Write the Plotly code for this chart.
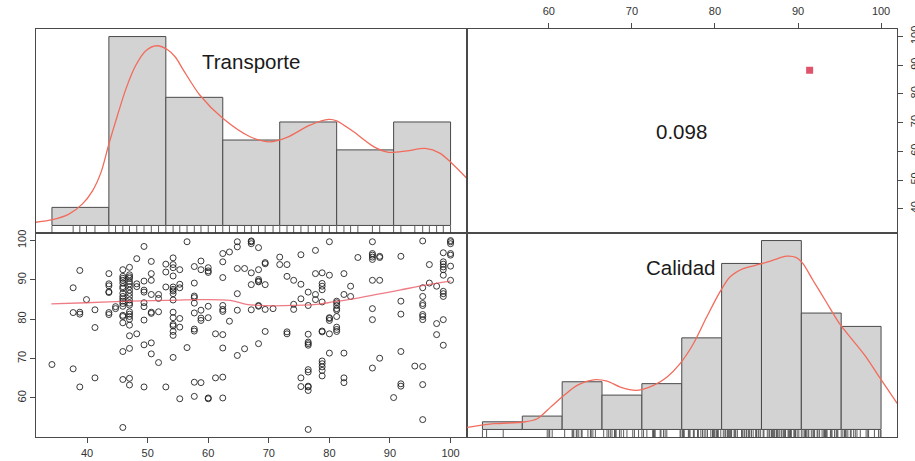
import plotly.graph_objects as go

# ---- paired observations (Transporte, Calidad) ----
transporte = (
    [34.2] + [37.7] * 3 + [38.8] * 4 + [39.9] + [41.3] * 3 + [43.6] * 7 + [44.7] * 2
    + [45.9] * 19 + [47.0] * 22 + [48.2] * 4 + [49.4] * 9 + [50.6] * 8 + [51.8] * 4
    + [53.0] * 4 + [54.2] * 16 + [55.3] * 6 + [56.5] * 2 + [57.7] * 10 + [58.8] * 6
    + [60.0] * 7 + [61.2] * 2 + [62.4] * 10 + [63.5] * 2 + [64.8] * 6 + [66.0] * 2
    + [67.1] * 6 + [68.3] * 8 + [69.4] * 5 + [70.7] + [71.8] * 2 + [73.0] * 4
    + [74.1] * 3 + [75.3] * 5 + [76.5] * 12 + [77.7] * 4 + [78.8] * 12 + [80.0] * 7
    + [81.2] * 9 + [82.4] * 5 + [83.5] * 2 + [84.7] + [87.1] * 9 + [88.3] * 4
    + [90.6] + [91.8] * 6 + [94.1] + [95.4] * 11 + [96.5] * 2 + [97.7] * 3
    + [98.8] * 11 + [100.0] * 7
)
calidad = [
    68.5,
    88.0, 81.7, 67.4,
    92.4, 81.3, 81.8, 62.8,
    85.0,
    82.4, 77.9, 65.1,
    91.6, 89.0, 88.5, 87.0, 86.8, 81.7, 81.2,
    82.7, 83.2,
    92.6, 90.9, 90.4, 89.9, 89.2, 88.3, 87.8, 86.6, 85.8, 85.2, 84.6, 84.0, 83.3,
    81.0, 80.7, 79.1, 71.8, 64.7, 52.5,
    93.2, 91.3, 90.8, 90.4, 89.6, 89.0, 88.3, 87.4, 86.6, 85.8, 84.9, 84.1, 83.6,
    81.9, 81.3, 80.7, 80.0, 78.5, 75.8, 72.6, 65.0, 63.3,
    95.4, 89.0, 88.3, 76.3,
    98.5, 89.7, 87.4, 86.9, 84.2, 83.2, 79.8, 73.5, 62.8,
    94.7, 91.6, 89.9, 86.3, 81.8, 81.5, 74.0, 71.2,
    86.3, 85.3, 81.9, 69.0,
    94.0, 92.0, 88.2, 62.8,
    95.6, 93.9, 93.1, 91.0, 88.2, 87.6, 87.2, 86.5, 84.9, 81.8, 80.4, 78.7, 78.3,
    76.9, 75.9, 70.3,
    92.6, 88.9, 88.0, 80.2, 78.0, 59.8,
    99.7, 72.8,
    93.4, 89.2, 85.9, 85.5, 84.1, 81.6, 77.5, 77.0, 64.0, 60.4,
    94.8, 92.6, 82.3, 80.3, 79.7, 63.9,
    93.1, 92.3, 91.9, 83.3, 80.4, 60.0, 59.8,
    76.3, 65.1,
    96.7, 94.6, 90.6, 83.5, 82.5, 82.0, 76.1, 72.7, 65.3, 60.0,
    97.1, 79.5,
    99.7, 98.4, 92.9, 86.5, 82.3, 70.8,
    92.9, 72.5,
    99.9, 99.7, 99.2, 91.8, 88.8, 82.4,
    98.2, 92.6, 90.1, 89.7, 89.5, 83.5, 83.3, 73.8,
    94.4, 94.1, 88.8, 82.5, 76.9,
    82.7,
    95.8, 93.9,
    93.9, 90.9, 76.8, 76.3,
    89.9, 83.8, 82.5,
    96.4, 88.9, 85.2, 65.1, 62.9,
    86.9, 83.5, 76.2, 74.2, 73.8, 73.4, 67.2, 66.6, 63.0, 62.8, 61.9, 52.0,
    97.5, 91.6, 86.3, 85.0,
    91.8, 89.1, 88.4, 87.5, 84.4, 77.0, 76.8, 69.4, 68.7, 67.9, 67.0, 65.6,
    99.7, 91.2, 80.4, 80.2, 79.7, 76.3, 71.4,
    84.6, 84.2, 83.5, 82.7, 82.3, 80.7, 78.0, 77.4, 76.9,
    91.6, 86.3, 71.4, 65.1, 63.9,
    88.4, 85.8,
    95.7,
    99.7, 96.7, 96.3, 95.8, 95.2, 89.9, 82.7, 79.9, 67.6,
    96.0, 95.7, 89.9, 70.1,
    60.1,
    96.0, 84.6, 81.3, 71.8, 63.6, 63.0,
    68.1,
    99.9, 88.0, 85.8, 84.0, 83.5, 81.2, 80.7, 79.9, 68.0, 63.4, 54.5,
    93.9, 89.2,
    88.4, 78.9, 76.1,
    96.9, 94.6, 94.0, 93.3, 92.6, 91.2, 87.1, 86.5, 85.8, 79.9, 73.4,
    100.0, 99.7, 99.2, 96.7, 96.3, 93.5, 89.9,
]

# ---- smoothed trend of Calidad on Transporte ----
smooth_x = [34.1, 39.9, 47.1, 53.1, 58.6, 63.6, 66.3, 69.6, 72.4, 77.9, 80.6,
            83.9, 87.8, 91.6, 95.5, 100.0]
smooth_y = [83.9, 84.2, 84.6, 84.8, 85.0, 84.8, 83.8, 83.45, 83.45, 83.8, 84.4,
            85.2, 86.3, 87.4, 88.6, 89.7]

# ---- histogram of Transporte ----
transp_breaks = [34.2, 43.6, 53.0, 62.4, 71.8, 81.2, 90.6, 100.0]
transp_counts = [11, 115, 78, 52, 63, 46, 63]
transp_dens_x = [31.0, 34.3, 37.0, 39.2, 40.9, 42.3, 43.6, 45.0, 46.4, 48.0, 49.7,
                 51.5, 53.3, 54.6, 55.9, 58.6, 62.4, 66.9, 70.2, 73.0, 76.8, 79.9,
                 81.2, 84.0, 87.3, 89.8, 92.8, 95.8, 98.3, 100.5, 103.0]
transp_dens_y = [1.7, 3.5, 6.9, 13.0, 21.1, 32.3, 49.6, 66.8, 83.0, 97.2, 106.4,
                 109.4, 107.0, 102.4, 94.6, 79.4, 65.2, 54.0, 50.9, 53.6, 61.1, 64.6,
                 63.7, 57.0, 48.0, 44.5, 45.4, 46.9, 43.9, 36.8, 27.5]

# ---- histogram of Calidad ----
calid_breaks = [52.0, 56.8, 61.6, 66.4, 71.2, 76.0, 80.8, 85.6, 90.4, 95.2, 100.0]
calid_counts = [4, 7, 25, 18, 24, 48, 87, 99, 61, 54]
calid_dens_x = [49.8, 53.4, 57.0, 58.6, 60.2, 61.8, 63.4, 65.4, 67.0, 68.6, 70.6,
                72.6, 74.2, 75.8, 77.4, 79.0, 80.6, 81.8, 83.4, 85.4, 87.0, 88.6,
                89.8, 90.6, 91.8, 93.4, 95.0, 96.6, 98.2, 99.8, 102.2]
calid_dens_y = [0.8, 3.0, 3.9, 5.6, 11.7, 17.8, 23.1, 26.0, 25.3, 22.2, 20.5,
                23.1, 27.4, 34.5, 44.9, 58.9, 72.1, 79.9, 84.3, 86.6, 88.7, 90.8,
                90.1, 86.9, 78.2, 66.8, 55.4, 46.7, 37.9, 27.4, 12.0]

# ---- correlation panel ----
corr_label = "0.098"
corr_point = (91.4, 88.3)  # (Calidad, Transporte)

var_names = ["Transporte", "Calidad"]
x_ticks_t = [40, 50, 60, 70, 80, 90, 100]
y_ticks_c = [60, 70, 80, 90, 100]
x_ticks_c = [60, 70, 80, 90, 100]
y_ticks_t = [40, 50, 60, 70, 80, 90, 100]

# ---- styling ----
FONT = "Liberation Sans, Arial, sans-serif"
BOX = "#4a4a4a"
BAR_FILL = "#d3d3d3"
DENS_COL = "#f26b5b"
SMOOTH_COL = "rgba(232,80,92,0.75)"
POINT_COL = "rgba(25,25,25,0.85)"


def padded(lo, hi, frac=0.04):
    span = hi - lo
    return [lo - frac * span, hi + frac * span]


t_range = padded(min(transporte), max(transporte))
c_range = padded(min(calidad), max(calidad))
t_hist_range = padded(0, max(transp_counts))
c_hist_range = padded(0, max(calid_counts))


def bar_geometry(breaks):
    centers = [(a + b) / 2 for a, b in zip(breaks[:-1], breaks[1:])]
    widths = [b - a for a, b in zip(breaks[:-1], breaks[1:])]
    return centers, widths


def rug_segments(values, yr, frac=0.034):
    xs, ys = [], []
    y0 = yr[0]
    y1 = yr[0] + frac * (yr[1] - yr[0])
    for v in sorted(set(values)):
        xs += [v, v, None]
        ys += [y0, y1, None]
    return xs, ys


fig = go.Figure()

# bottom-left: scatter of Calidad against Transporte
fig.add_trace(go.Scatter(
    x=transporte, y=calidad, mode="markers", xaxis="x", yaxis="y",
    marker=dict(symbol="circle-open", size=6, color=POINT_COL,
                line=dict(color=POINT_COL, width=1)),
    showlegend=False, hoverinfo="x+y"))
fig.add_trace(go.Scatter(
    x=smooth_x, y=smooth_y, mode="lines", xaxis="x", yaxis="y",
    line=dict(color=SMOOTH_COL, width=1.3, shape="spline"),
    showlegend=False, hoverinfo="skip"))

# top-left: Transporte histogram with density and rug
tc, tw = bar_geometry(transp_breaks)
fig.add_trace(go.Bar(
    x=tc, y=transp_counts, width=tw, xaxis="x2", yaxis="y2",
    marker=dict(color=BAR_FILL, line=dict(color=BOX, width=1)),
    showlegend=False))
fig.add_trace(go.Scatter(
    x=transp_dens_x, y=transp_dens_y, mode="lines", xaxis="x2", yaxis="y2",
    line=dict(color=DENS_COL, width=1.3, shape="spline", smoothing=0.8),
    showlegend=False, hoverinfo="skip"))
rx, ry = rug_segments(transporte, t_hist_range)
fig.add_trace(go.Scatter(
    x=rx, y=ry, mode="lines", xaxis="x2", yaxis="y2",
    line=dict(color="#333333", width=0.8), showlegend=False, hoverinfo="skip"))

# top-right: correlation panel
fig.add_trace(go.Scatter(
    x=[corr_point[0]], y=[corr_point[1]], mode="markers", xaxis="x3", yaxis="y3",
    marker=dict(symbol="square", size=7, color="#df536b"),
    showlegend=False))

# bottom-right: Calidad histogram with density and rug
cc, cw = bar_geometry(calid_breaks)
fig.add_trace(go.Bar(
    x=cc, y=calid_counts, width=cw, xaxis="x4", yaxis="y4",
    marker=dict(color=BAR_FILL, line=dict(color=BOX, width=1)),
    showlegend=False))
fig.add_trace(go.Scatter(
    x=calid_dens_x, y=calid_dens_y, mode="lines", xaxis="x4", yaxis="y4",
    line=dict(color=DENS_COL, width=1.3, shape="spline", smoothing=0.8),
    showlegend=False, hoverinfo="skip"))
rx, ry = rug_segments(calidad, c_hist_range)
fig.add_trace(go.Scatter(
    x=rx, y=ry, mode="lines", xaxis="x4", yaxis="y4",
    line=dict(color="#333333", width=0.8), showlegend=False, hoverinfo="skip"))

tick_font = dict(family=FONT, size=11, color="#333333")
base_axis = dict(showgrid=False, zeroline=False, showline=True, mirror=True,
                 linecolor=BOX, linewidth=1, automargin=False, fixedrange=True)
ticked = dict(ticks="outside", ticklen=5, tickcolor=BOX, tickwidth=1,
              tickfont=tick_font, tickmode="array")
plain = dict(ticks="", showticklabels=False)

fig.update_layout(
    width=915, height=461,
    margin=dict(l=36, r=18, t=29, b=24),
    paper_bgcolor="white", plot_bgcolor="white",
    font=dict(family=FONT, color="#222222"),
    barmode="overlay",
    xaxis=dict(**base_axis, **ticked, domain=[0, 0.5], anchor="y",
               range=t_range, tickvals=x_ticks_t, ticklabelstandoff=1),
    yaxis=dict(**base_axis, **ticked, domain=[0, 0.5], anchor="x",
               range=c_range, tickvals=y_ticks_c, tickangle=-90),
    xaxis2=dict(**base_axis, **plain, domain=[0, 0.5], anchor="y2",
                range=t_range),
    yaxis2=dict(**base_axis, **plain, domain=[0.5, 1], anchor="x2",
                range=t_hist_range),
    xaxis3=dict(**base_axis, **ticked, domain=[0.5, 1], anchor="y3",
                side="top", range=c_range, tickvals=x_ticks_c,
                ticklabelstandoff=4),
    yaxis3=dict(**base_axis, **ticked, domain=[0.5, 1], anchor="x3",
                side="right", range=t_range, tickvals=y_ticks_t, tickangle=-90,
                ticklabelstandoff=3),
    xaxis4=dict(**base_axis, **plain, domain=[0.5, 1], anchor="y4",
                range=c_range),
    yaxis4=dict(**base_axis, **plain, domain=[0, 0.5], anchor="x4",
                range=c_hist_range),
    annotations=[
        dict(text=var_names[0], x=67.1, y=99.7, xref="x2", yref="y2",
             xanchor="center", yanchor="middle", showarrow=False,
             font=dict(family=FONT, size=20.5, color="#1a1a1a")),
        dict(text=var_names[1], x=75.9, y=84.8, xref="x4", yref="y4",
             xanchor="center", yanchor="middle", showarrow=False,
             font=dict(family=FONT, size=20.5, color="#1a1a1a")),
        dict(text=corr_label, x=0.75, y=0.75, xref="paper", yref="paper",
             xanchor="center", yanchor="middle", showarrow=False,
             font=dict(family=FONT, size=20.5, color="#1a1a1a")),
    ],
)

fig.write_html("out.html")
